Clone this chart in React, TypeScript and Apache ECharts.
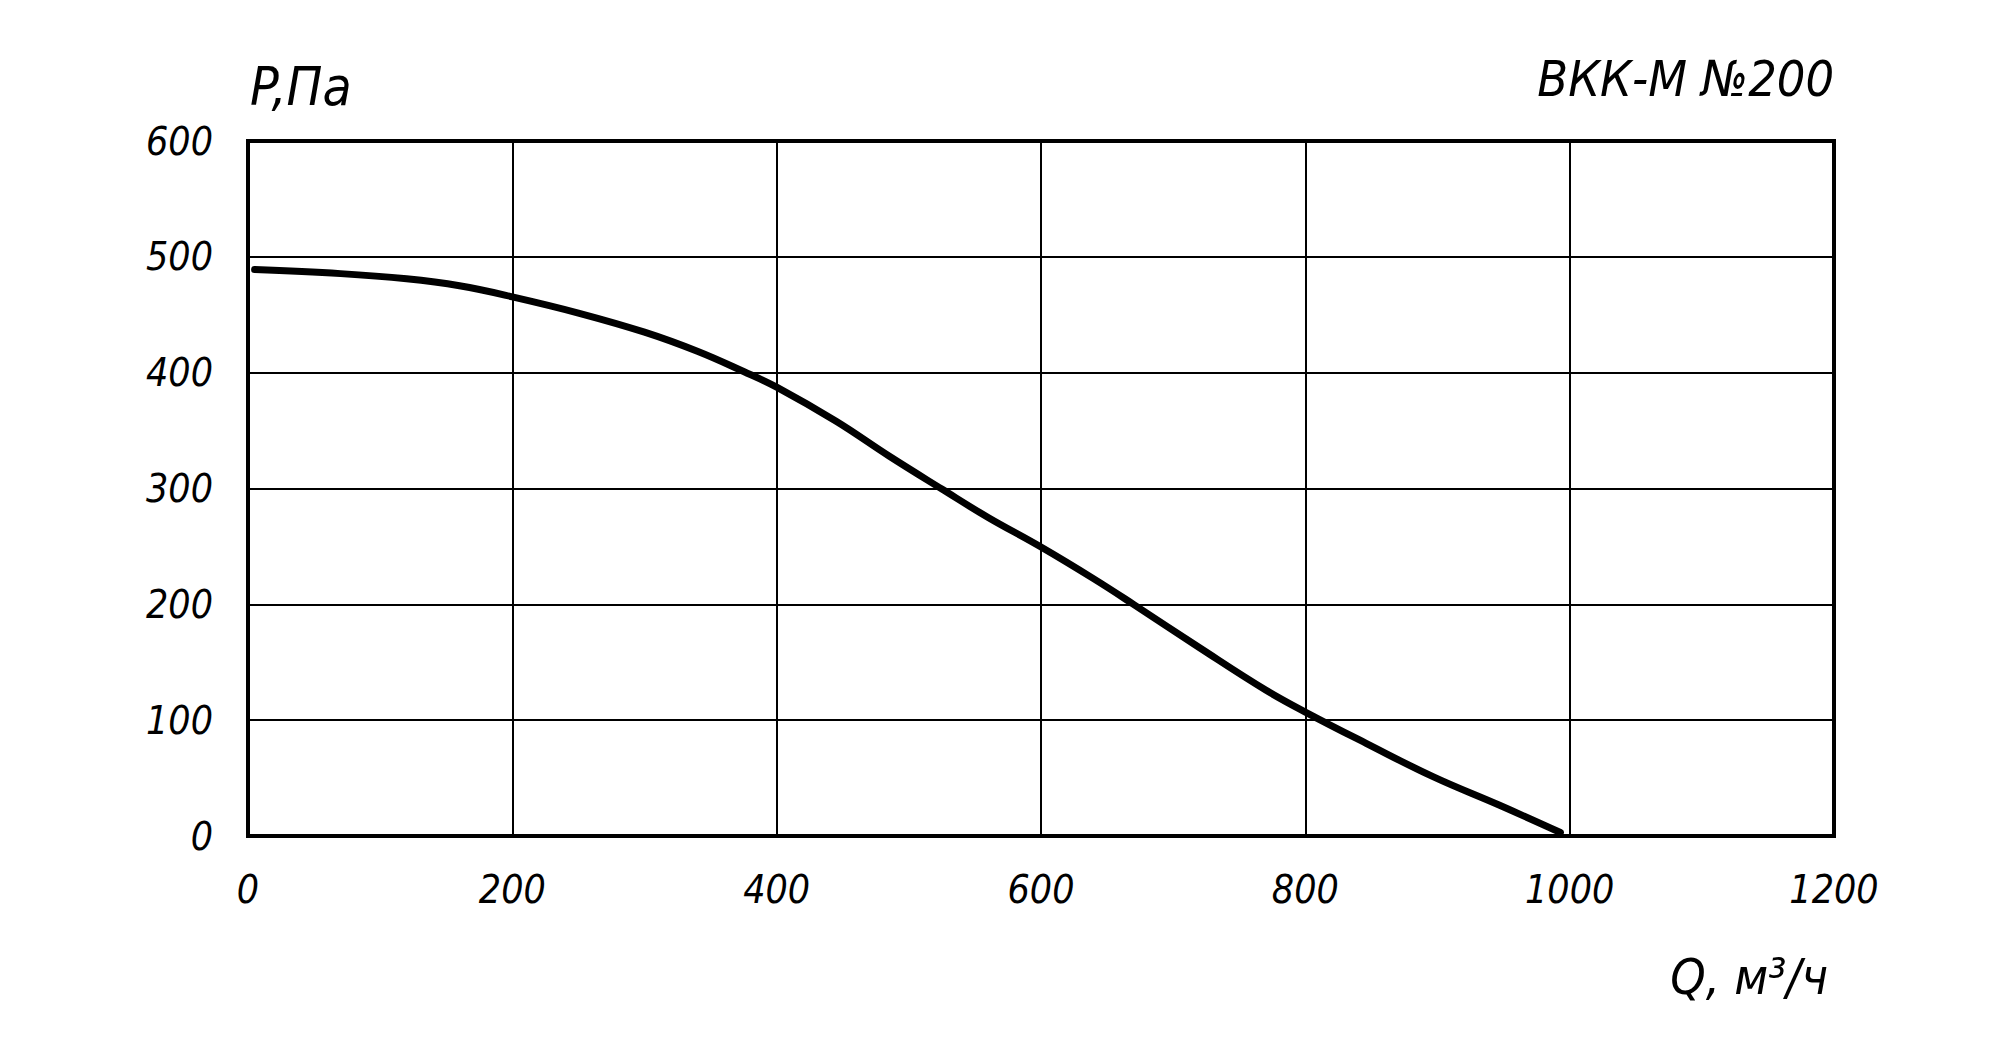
import React, { useEffect, useRef } from "react";
import * as echarts from "echarts";

const flowQ = [5, 70, 120, 160, 200, 250, 300, 340, 375, 400, 445, 485, 525, 560, 600, 640, 670, 720, 770, 800, 846, 897, 947, 993];
const pressureP = [489, 485.5, 481, 475, 465.5, 451.5, 435, 418.5, 401, 387.5, 358, 328, 299.5, 275, 249.5, 222, 200, 162.5, 126, 107, 80, 51, 26.5, 3];

const xTicks = [0, 200, 400, 600, 800, 1000, 1200];
const yTicks = [0, 100, 200, 300, 400, 500, 600];

const titleText = "ВКК-М №200";
const yName = "P,Па";
const xName = "Q, м³/ч";

const FONT = "'Liberation Sans Narrow', 'DejaVu Sans Condensed', 'Liberation Sans', sans-serif";

export default function App() {
  const ref = useRef<HTMLDivElement>(null);
  useEffect(() => {
    if (!ref.current) return;
    const chart = echarts.init(ref.current, null, { renderer: "svg" });
    const data = flowQ.map((q, i) => [q, pressureP[i]]);
    chart.setOption({
      animation: false,
      backgroundColor: "#ffffff",
      grid: {
        left: 248,
        right: 166,
        top: 141,
        bottom: 215,
        show: true,
        borderColor: "#000",
        borderWidth: 4,
        containLabel: false,
      },
      xAxis: {
        type: "value",
        min: xTicks[0],
        max: xTicks[xTicks.length - 1],
        interval: 200,
        axisLine: { show: true, lineStyle: { color: "#000", width: 4 } },
        axisTick: { show: false },
        splitLine: { show: true, lineStyle: { color: "#000", width: 2 } },
        axisLabel: {
          margin: 34,
          color: "#000",
          fontFamily: FONT,
          fontStyle: "italic",
          fontSize: 39,
          formatter: (v: number) => String(v),
        },
      },
      yAxis: {
        type: "value",
        min: yTicks[0],
        max: yTicks[yTicks.length - 1],
        interval: 100,
        axisLine: { show: true, lineStyle: { color: "#000", width: 4 } },
        axisTick: { show: false },
        splitLine: { show: true, lineStyle: { color: "#000", width: 2 } },
        axisLabel: {
          margin: 35,
          color: "#000",
          fontFamily: FONT,
          fontStyle: "italic",
          fontSize: 39,
          formatter: (v: number) => String(v),
        },
      },
      graphic: [
        {
          type: "text",
          left: 250,
          top: 60,
          style: {
            text: yName,
            fill: "#000",
            font: `italic 53px ${FONT}`,
          },
        },
        {
          type: "text",
          right: 166,
          top: 54,
          style: {
            text: titleText,
            fill: "#000",
            font: `italic 50px ${FONT}`,
          },
        },
        {
          type: "text",
          right: 172,
          top: 952,
          style: {
            text: xName,
            fill: "#000",
            font: `italic 50px ${FONT}`,
          },
        },
      ],
      series: [
        {
          type: "line",
          data,
          smooth: 0.4,
          showSymbol: false,
          symbol: "none",
          lineStyle: { color: "#000", width: 7, cap: "round", join: "round" },
        },
      ],
    });
    return () => chart.dispose();
  }, []);
  return (
    <div
      ref={ref}
      style={{ position: "fixed", left: 0, top: 0, width: 2000, height: 1051, background: "#fff" }}
    />
  );
}
